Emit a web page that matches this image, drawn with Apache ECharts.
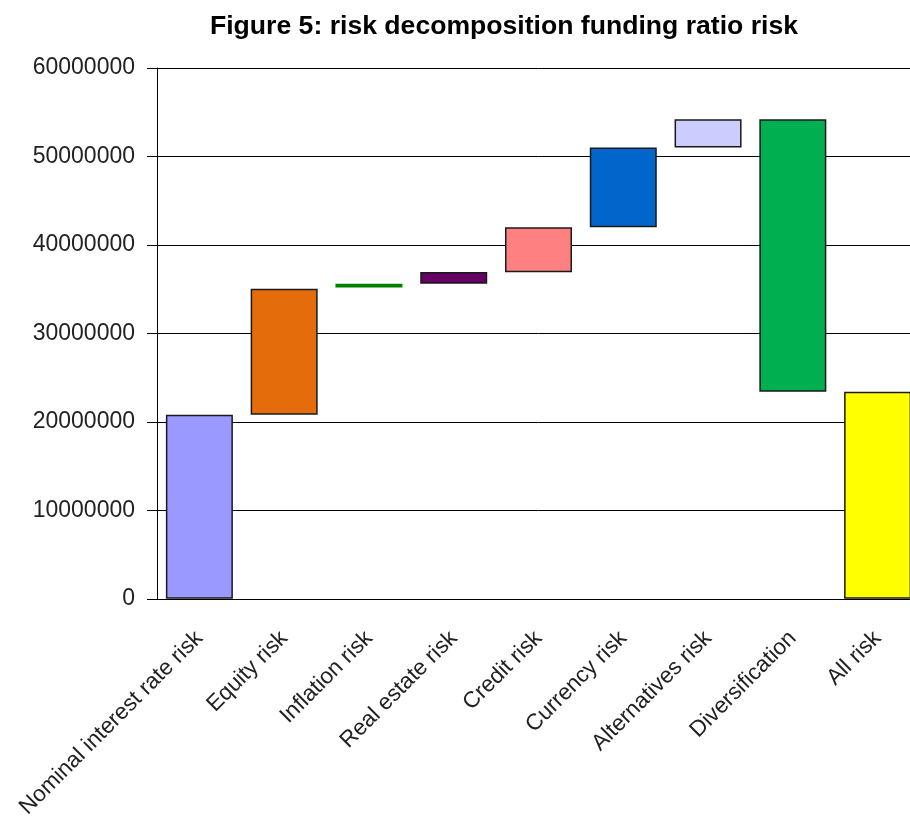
<!DOCTYPE html>
<html>
<head>
<meta charset="utf-8">
<title>risk decomposition funding ratio risk</title>
<script src="https://cdn.jsdelivr.net/npm/echarts@6/dist/echarts.min.js"></script>
<style>
  html, body { margin: 0; padding: 0; background: #fff; overflow: hidden; }
  /* the plot runs past the right edge of the window, as in the original */
  #chart { width: 930px; height: 821px; }
</style>
</head>
<body>
<div id="chart"></div>
<script>
// waterfall pieces: each bar runs from barLow to barHigh
const categories = [
    'Nominal interest rate risk', 'Equity risk', 'Inflation risk', 'Real estate risk',
    'Credit risk', 'Currency risk', 'Alternatives risk', 'Diversification', 'All risk',
];
const barLow = [0, 20800000, 35200000, 35600000, 36900000, 42000000, 51000000, 23400000, 0];
const barHigh = [20800000, 35050000, 35600000, 36950000, 42000000, 51000000, 54200000, 54200000, 23400000];
const barColors = ['#9999FF', '#E46C0A', '#008000', '#660066', '#FF8080', '#0066CC', '#CCCCFF', '#00B050', '#FFFF00'];
const yTicks = [0, 10000000, 20000000, 30000000, 40000000, 50000000, 60000000];

const font = '"Liberation Sans", Arial, sans-serif';

const chart = echarts.init(document.getElementById('chart'));

const option = {
    animation: false,
    backgroundColor: '#fff',
    title: {
        text: 'Figure 5: risk decomposition funding ratio risk',
        left: 499,
        textAlign: 'center',
        top: 8,
        textStyle: { fontFamily: font, fontSize: 26.6, fontWeight: 'bold', color: '#000' },
    },
    grid: { left: 157, top: 68, width: 763, height: 531 },
    xAxis: {
        type: 'category',
        data: categories,
        axisLine: { lineStyle: { color: '#000', width: 1 } },
        axisTick: { length: 6, lineStyle: { color: '#000' } },
        axisLabel: {
            rotate: 45,
            interval: 0,
            margin: 36,
            color: '#222',
            fontFamily: font,
            fontSize: 22.5,
        },
    },
    yAxis: {
        type: 'value',
        min: yTicks[0],
        max: yTicks[yTicks.length - 1],
        interval: 10000000,
        axisLine: { show: true, lineStyle: { color: '#000', width: 1 } },
        axisTick: { show: true, length: 10, lineStyle: { color: '#000' } },
        axisLabel: {
            margin: 22,
            color: '#222',
            fontFamily: font,
            fontSize: 23,
            formatter: (v) => String(v),
        },
        splitLine: { lineStyle: { color: '#000', width: 1 } },
    },
    series: [
        {
            name: 'base',
            type: 'bar',
            stack: 'w',
            barWidth: 67,
            silent: true,
            itemStyle: { color: 'transparent' },
            data: barLow,
        },
        {
            name: 'risk',
            type: 'bar',
            stack: 'w',
            barWidth: 67,
            data: barHigh.map((h, i) => ({
                value: h - barLow[i],
                itemStyle: {
                    color: barColors[i],
                    borderColor: i === 2 ? barColors[i] : '#1a1a1a',
                    borderWidth: 1.5,
                },
            })),
        },
    ],
};

chart.setOption(option);
</script>
</body>
</html>
